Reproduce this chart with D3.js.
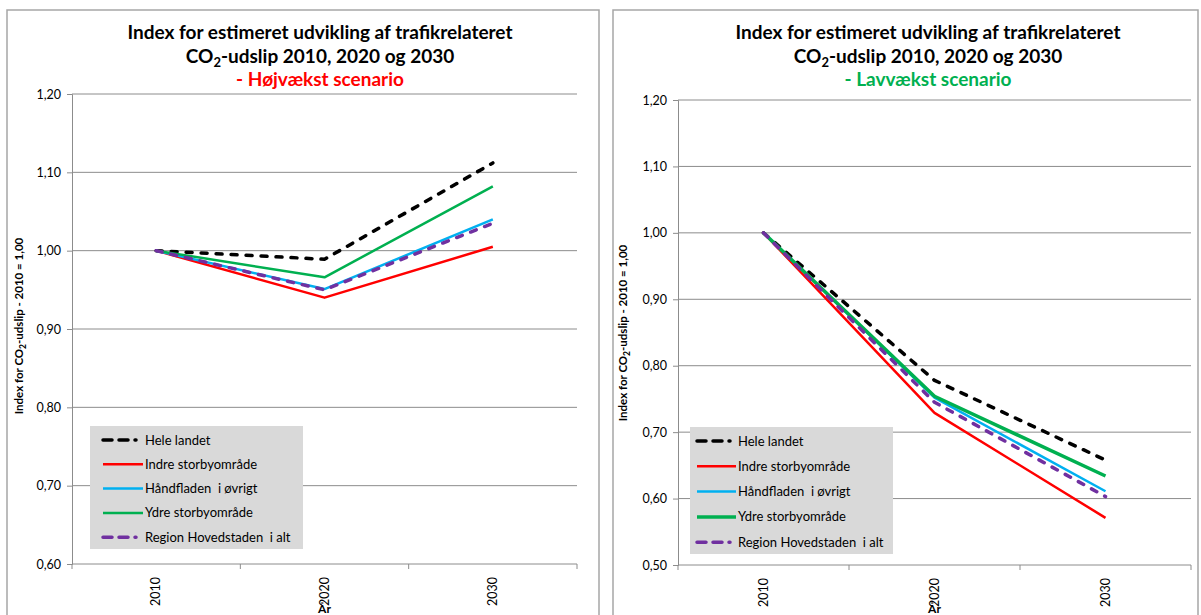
<!DOCTYPE html>
<html lang="da">
<head>
  <meta charset="UTF-8">
  <title>Index for estimeret udvikling af trafikrelateret CO2-udslip</title>
  <script src="https://d3js.org/d3.v7.min.js"></script>
  <style>
    body { margin: 0; background: #fff; }
    text { font-family: Lato, "Open Sans", sans-serif; }
  </style>
</head>
<body>
  <script>
    // kategorier og serier
    var years = ["2010", "2020", "2030"];
    var seriesNames = ["Hele landet", "Indre storbyområde", "Håndfladen  i øvrigt", "Ydre storbyområde", "Region Hovedstaden  i alt"];

    // Højvækst scenario
    var hojHele   = [1.000, 0.989, 1.112];
    var hojIndre  = [1.000, 0.940, 1.005];
    var hojHaand  = [1.000, 0.951, 1.040];
    var hojYdre   = [1.000, 0.966, 1.082];
    var hojRegion = [1.000, 0.950, 1.035];

    // Lavvækst scenario
    var lavHele   = [1.000, 0.778, 0.658];
    var lavIndre  = [1.000, 0.729, 0.571];
    var lavHaand  = [1.000, 0.752, 0.611];
    var lavYdre   = [1.000, 0.754, 0.634];
    var lavRegion = [1.000, 0.745, 0.603];

    var hojTicks = [0.6, 0.7, 0.8, 0.9, 1.0, 1.1, 1.2];
    var lavTicks = [0.5, 0.6, 0.7, 0.8, 0.9, 1.0, 1.1, 1.2];

    var colors = ["#000000", "#ff0000", "#00b0f0", "#00b050", "#7030a0"];
    var dashed = [true, false, false, false, true];

    var svg = d3.select("body").append("svg")
      .attr("width", 1201)
      .attr("height", 615);

    function drawChart(opt) {
      var g = svg.append("g");

      // chart border
      g.append("rect")
        .attr("x", opt.box[0]).attr("y", opt.box[1])
        .attr("width", opt.box[2]).attr("height", opt.box[3])
        .attr("fill", "#fff")
        .attr("stroke", "#a6a6a6")
        .attr("stroke-width", 1.5);

      var x = d3.scaleBand().domain(years).range([opt.x0, opt.x1]);
      var y = d3.scaleLinear().domain(opt.domain).range([opt.yBot, opt.yTop]);
      var fmt = function(d) { return d3.format(".2f")(d).replace(".", ","); };

      // gridlines
      g.append("g").selectAll("line")
        .data(opt.ticks.slice(1))
        .join("line")
        .attr("x1", opt.x0).attr("x2", opt.x1)
        .attr("y1", d => y(d)).attr("y2", d => y(d))
        .attr("stroke", "#8c8c8c").attr("stroke-width", 1);

      // y axis
      var yAxis = g.append("g")
        .attr("transform", "translate(" + opt.x0 + ",0)")
        .call(d3.axisLeft(y).tickValues(opt.ticks).tickFormat(fmt).tickSize(5).tickPadding(6));
      yAxis.select(".domain").attr("stroke", "#8c8c8c");
      yAxis.selectAll(".tick line").attr("stroke", "#8c8c8c");
      yAxis.selectAll("text").attr("font-size", 12.5).attr("fill", "#000")
        .style("font-family", "Lato, sans-serif");

      // x axis (ticks between categories)
      var xg = g.append("g");
      xg.append("line")
        .attr("x1", opt.x0).attr("x2", opt.x1)
        .attr("y1", opt.yBot).attr("y2", opt.yBot)
        .attr("stroke", "#8c8c8c");
      var bounds = years.map(d => x(d)).concat([opt.x1]);
      xg.selectAll(".xt").data(bounds).join("line")
        .attr("x1", d => d).attr("x2", d => d)
        .attr("y1", opt.yBot).attr("y2", opt.yBot + 5)
        .attr("stroke", "#8c8c8c");
      xg.selectAll(".xl").data(years).join("text")
        .attr("transform", d => "translate(" + (x(d) + x.bandwidth() / 2 + 4) + "," + (opt.yBot + 13) + ") rotate(-90)")
        .attr("text-anchor", "end")
        .attr("font-size", 12.5)
        .text(d => d);

      // x axis title
      g.append("text")
        .attr("x", x("2020") + x.bandwidth() / 2)
        .attr("y", 613)
        .attr("text-anchor", "middle")
        .attr("font-weight", "bold")
        .attr("font-size", 12)
        .text("År");

      // y axis title
      var yt = g.append("text")
        .attr("transform", "translate(" + opt.yTitleX + "," + opt.yTitleY + ") rotate(-90)")
        .attr("text-anchor", "middle")
        .attr("font-weight", "bold")
        .attr("font-size", 11.5);
      yt.append("tspan").text("Index for CO");
      yt.append("tspan").attr("dy", 3).attr("font-size", 8.5).text("2");
      yt.append("tspan").attr("dy", -3).text("-udslip - 2010 = 1,00");

      // title
      var t = g.append("g").attr("text-anchor", "middle").attr("font-weight", "bold").attr("font-size", 19);
      t.append("text").attr("x", opt.titleX).attr("y", 39)
        .text("Index for estimeret udvikling af trafikrelateret");
      var t2 = t.append("text").attr("x", opt.titleX).attr("y", 63);
      t2.append("tspan").text("CO");
      t2.append("tspan").attr("dy", 4).attr("font-size", 13).text("2");
      t2.append("tspan").attr("dy", -4).text("-udslip 2010, 2020 og 2030");
      t.append("text").attr("x", opt.titleX).attr("y", 86)
        .attr("fill", opt.subColor)
        .text(opt.subtitle);

      // lines
      var line = d3.line()
        .x((d, i) => x(years[i]) + x.bandwidth() / 2)
        .y(d => y(d));
      g.append("g").selectAll("path")
        .data(opt.series)
        .join("path")
        .attr("d", d => line(d))
        .attr("fill", "none")
        .attr("stroke", (d, i) => colors[i])
        .attr("stroke-width", (d, i) => opt.widths[i])
        .attr("stroke-linecap", (d, i) => dashed[i] ? "round" : "butt")
        .attr("stroke-linejoin", "round")
        .attr("stroke-dasharray", (d, i) => dashed[i] ? "6,9" : null);

      // legend
      var lg = g.append("g");
      lg.append("rect")
        .attr("x", opt.legend[0]).attr("y", opt.legend[1])
        .attr("width", opt.legend[2]).attr("height", opt.legend[3])
        .attr("fill", "#d9d9d9");
      var items = lg.selectAll(".li").data(seriesNames).join("g")
        .attr("transform", (d, i) => "translate(0," + (opt.legendY0 + i * opt.legendStep) + ")");
      items.append("line")
        .attr("x1", opt.legendLine[0]).attr("x2", opt.legendLine[1])
        .attr("stroke", (d, i) => colors[i])
        .attr("stroke-width", (d, i) => opt.widths[i])
        .attr("stroke-linecap", (d, i) => dashed[i] ? "round" : "butt")
        .attr("stroke-dasharray", (d, i) => dashed[i] ? "9,7,9,7,1,20" : null);
      items.append("text")
        .attr("x", opt.legendLine[1] + 2)
        .attr("y", 4.5)
        .attr("font-size", 13)
        .style("white-space", "pre")
        .text(d => d);
    }

    drawChart({
      box: [7, 10, 592, 620],
      x0: 72, x1: 577, yTop: 94, yBot: 564,
      domain: [0.6, 1.2], ticks: hojTicks,
      titleX: 320, subtitle: "- Højvækst scenario", subColor: "#ff0000",
      yTitleX: 23, yTitleY: 326,
      series: [hojHele, hojIndre, hojHaand, hojYdre, hojRegion],
      widths: [3.5, 2.5, 2.5, 2.5, 3.5],
      legend: [90, 426, 213, 123], legendY0: 440, legendStep: 24.3, legendLine: [103, 143]
    });

    drawChart({
      box: [613, 10, 585, 620],
      x0: 678, x1: 1191, yTop: 100, yBot: 565,
      domain: [0.5, 1.2], ticks: lavTicks,
      titleX: 928, subtitle: "- Lavvækst scenario", subColor: "#00b050",
      yTitleX: 627, yTitleY: 333,
      series: [lavHele, lavIndre, lavHaand, lavYdre, lavRegion],
      widths: [3.5, 2.5, 2.5, 3.5, 3.5],
      legend: [690, 427, 203, 127], legendY0: 441, legendStep: 25.3, legendLine: [697, 736]
    });
  </script>
</body>
</html>
